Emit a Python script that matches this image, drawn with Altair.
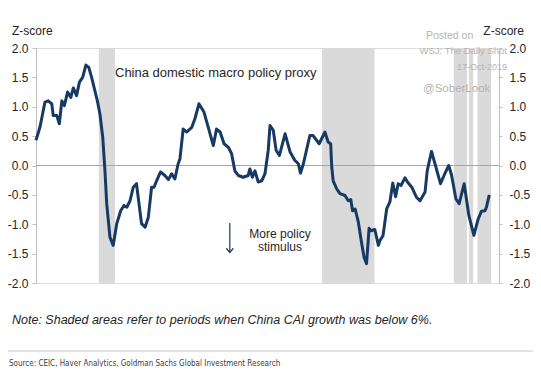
import altair as alt
import pandas as pd

# ---- data ----
years = [2007.00, 2007.11, 2007.25, 2007.34, 2007.44, 2007.48, 2007.58, 2007.65, 2007.72, 2007.79,
         2007.88, 2007.97, 2008.04, 2008.13, 2008.21, 2008.30, 2008.39, 2008.47, 2008.55, 2008.71,
         2008.78, 2008.86, 2008.92, 2008.97, 2009.06, 2009.15, 2009.25, 2009.36, 2009.45, 2009.53,
         2009.62, 2009.71, 2009.80, 2009.94, 2010.04, 2010.13, 2010.22, 2010.29, 2010.36, 2010.47,
         2010.59, 2010.69, 2010.78, 2010.87, 2010.96, 2011.01, 2011.10, 2011.20, 2011.34, 2011.43,
         2011.54, 2011.68, 2011.80, 2011.94, 2012.03, 2012.13, 2012.24, 2012.36, 2012.45, 2012.54,
         2012.64, 2012.77, 2012.91, 2012.96, 2013.03, 2013.10, 2013.19, 2013.29, 2013.38, 2013.47,
         2013.52, 2013.61, 2013.69, 2013.78, 2013.94, 2014.08, 2014.21, 2014.31, 2014.37, 2014.45,
         2014.63, 2014.72, 2014.89, 2015.05, 2015.14, 2015.21, 2015.24, 2015.28, 2015.38, 2015.47,
         2015.61, 2015.70, 2015.77, 2015.82, 2015.89, 2015.98, 2016.07, 2016.14, 2016.21, 2016.28,
         2016.33, 2016.44, 2016.54, 2016.58, 2016.67, 2016.77, 2016.86, 2016.94, 2017.02, 2017.09,
         2017.17, 2017.28, 2017.35, 2017.47, 2017.60, 2017.70, 2017.84, 2017.90, 2018.02, 2018.13,
         2018.27, 2018.39, 2018.50, 2018.58, 2018.70, 2018.79, 2018.93, 2019.06, 2019.20, 2019.32,
         2019.41, 2019.51, 2019.55, 2019.63]
zscore = [0.43, 0.65, 1.08, 1.10, 1.05, 0.85, 0.85, 0.71, 1.10, 1.02,
          1.25, 1.16, 1.32, 1.19, 1.42, 1.50, 1.71, 1.67, 1.50, 1.10,
          0.88, 0.48, -0.08, -0.65, -1.22, -1.36, -0.99, -0.77, -0.68, -0.71,
          -0.60, -0.37, -0.31, -0.99, -1.05, -0.88, -0.37, -0.37, -0.26, -0.11,
          -0.17, -0.24, -0.14, -0.23, 0.03, 0.11, 0.62, 0.57, 0.65, 0.80,
          1.05, 0.91, 0.65, 0.34, 0.62, 0.57, 0.37, 0.31, 0.20, -0.09,
          -0.17, -0.20, -0.17, -0.06, -0.20, -0.09, -0.28, -0.26, -0.14, 0.26,
          0.68, 0.60, 0.26, 0.17, 0.54, 0.23, 0.09, 0.03, -0.13, 0.03,
          0.51, 0.51, 0.37, 0.57, 0.40, 0.37, -0.03, -0.26, -0.40, -0.48,
          -0.51, -0.60, -0.58, -0.77, -0.74, -0.96, -1.31, -1.56, -1.67, -1.07,
          -1.11, -1.09, -1.36, -1.28, -1.19, -0.74, -0.62, -0.30, -0.53, -0.31,
          -0.34, -0.21, -0.28, -0.37, -0.54, -0.60, -0.45, -0.09, 0.24, 0.00,
          -0.31, -0.14, 0.00, -0.17, -0.57, -0.65, -0.31, -0.85, -1.19, -0.91,
          -0.78, -0.77, -0.71, -0.50]

shade_start = [2008.75, 2014.97, 2018.64, 2019.06, 2019.30]
shade_end = [2009.20, 2016.43, 2019.01, 2019.18, 2019.68]

year_ticks = list(range(2007, 2020))
z_ticks = [-2.0, -1.5, -1.0, -0.5, 0.0, 0.5, 1.0, 1.5, 2.0]

W, H = 463, 235
FONT = "Liberation Sans"
TXT = "#262626"
NAVY = "#173a64"

line_df = pd.DataFrame({"year": years, "z": zscore})
shade_df = pd.DataFrame({"start": shade_start, "end": shade_end})
zero_df = pd.DataFrame({"z": [0.0]})

xscale = alt.Scale(domain=[2007, 2019.9], nice=False, zero=False)
yscale = alt.Scale(domain=[-2, 2], nice=False, zero=False)

xaxis = alt.Axis(values=year_ticks, labelExpr="substring(toString(datum.value), 2, 4)",
                 grid=False, tickSize=4, labelPadding=3, domainColor="#bfbfbf",
                 tickColor="#bfbfbf", labelColor=TXT, labelFont=FONT, labelFontSize=12,
                 title=None, labelFlush=False)
ylabel = "replace(format(datum.value, '.1f'), '\u2212', '-')"
yaxis_left = alt.Axis(values=z_ticks, labelExpr=ylabel, grid=False, tickSize=4, labelPadding=4,
                      domainColor="#bfbfbf", tickColor="#bfbfbf", labelColor=TXT,
                      labelFont=FONT, labelFontSize=12, title=None, orient="left")
yaxis_right = alt.Axis(values=z_ticks, labelExpr=ylabel, grid=False, tickSize=3, labelPadding=7,
                       domainColor="#bfbfbf", tickColor="#bfbfbf", labelColor=TXT,
                       labelFont=FONT, labelFontSize=12, title=None, orient="right")

shades = alt.Chart(shade_df).mark_rect(color="#dadada").encode(
    x=alt.X("start:Q", scale=xscale, axis=xaxis),
    x2="end:Q",
    y=alt.value(0),
    y2=alt.value(H),
)

zero = alt.Chart(zero_df).mark_rule(color="#a6a6a6", strokeWidth=1).encode(
    y=alt.Y("z:Q", scale=yscale, axis=yaxis_right),
)

line = alt.Chart(line_df).mark_line(color=NAVY, strokeWidth=3, strokeJoin="round").encode(
    x=alt.X("year:Q", scale=xscale, axis=xaxis),
    y=alt.Y("z:Q", scale=yscale, axis=yaxis_left),
)


def label(text, x, y, size=12, align="left", color=TXT, font=FONT, style="normal", baseline="alphabetic"):
    return alt.Chart(pd.DataFrame({"t": [text]})).mark_text(
        align=align, baseline=baseline, fontSize=size, font=font, color=color, fontStyle=style
    ).encode(text="t:N", x=alt.value(x), y=alt.value(y))


OX, OY = 36, 48  # plot origin in page pixels
texts = [
    label("Z-score", 12 - OX, 35 - OY),
    label("Z-score", 524 - OX, 35 - OY, align="right"),
    label("China domestic macro policy proxy", 115 - OX, 77 - OY, size=13),
    label("More policy", 280 - OX, 238 - OY, align="center"),
    label("stimulus", 280 - OX, 251 - OY, align="center"),
    label("Note: Shaded areas refer to periods when China CAI growth was below 6%.",
          12 - OX, 324 - OY, size=12.5, style="italic"),
    label("Source: CEIC, Haver Analytics, Goldman Sachs Global Investment Research",
          9 - OX, 366 - OY, size=8, color="#404040",
          font="Liberation Sans Narrow, DejaVu Sans Condensed, Arial Narrow, Liberation Sans"),
    label("Posted on", 426 - OX, 38.5 - OY, size=10.5, color="#b4b4b4"),
    label("WSJ: The Daily Shot", 507 - OX, 54 - OY, size=9.5, color="#b4b4b4", align="right"),
    label("17-Oct-2019", 507 - OX, 69.5 - OY, size=9, color="#b4b4b4", align="right"),
    label("@SoberLook", 423 - OX, 91.5 - OY, size=11.5, color="#b4b4b4"),
]

sep = alt.Chart(zero_df).mark_rule(color="#c8c8c8", strokeWidth=1).encode(
    x=alt.value(-OX), x2=alt.value(541 - OX), y=alt.value(351 - OY)
)

arrow_df = pd.DataFrame({"x": [2012.40], "y1": [-0.98], "y2": [-1.48]})
arrow_shaft = alt.Chart(arrow_df).mark_rule(color=NAVY, strokeWidth=1.2).encode(
    x=alt.X("x:Q", scale=xscale, axis=None),
    y=alt.Y("y1:Q", scale=yscale, axis=None),
    y2="y2:Q",
)
arrow_head = alt.Chart(arrow_df).mark_point(
    shape="M-1,-1.2L0,0L1,-1.2", filled=False, color=NAVY, strokeWidth=1.2, size=49, opacity=1
).encode(
    x=alt.X("x:Q", scale=xscale, axis=None),
    y=alt.Y("y2:Q", scale=yscale, axis=None),
)

chart = alt.layer(shades, zero, line, arrow_shaft, arrow_head, sep, *texts).resolve_axis(
    y="independent"
).properties(
    width=W, height=H,
    autosize=alt.AutoSizeParams(type="none"),
    padding={"left": 28, "top": 40, "right": 34, "bottom": 84},
).configure_view(stroke="#d4d4d4", strokeWidth=1).configure(background="white")

chart.save("out.html", embed_options={"renderer": "svg", "actions": False})
